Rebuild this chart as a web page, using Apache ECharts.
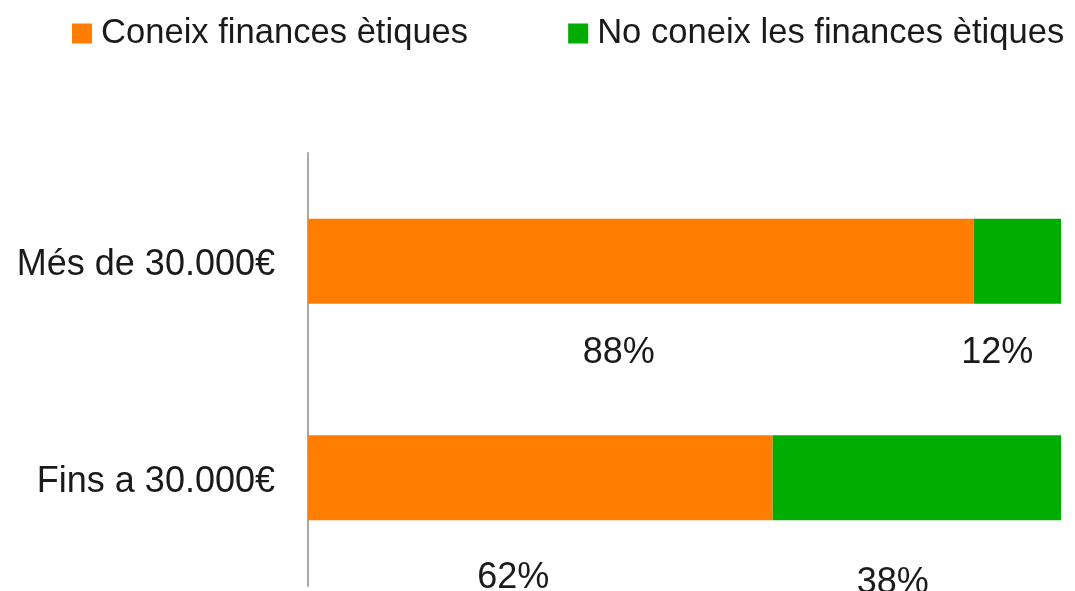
<!DOCTYPE html>
<html>
<head>
<meta charset="utf-8">
<script src="https://cdn.jsdelivr.net/npm/echarts@6/dist/echarts.min.js"></script>
<style>html,body{margin:0;padding:0;background:#fff;}#c{width:1075px;height:591px;}</style>
</head>
<body>
<div id="c"></div>
<script>
const categories = ['Més de 30.000€', 'Fins a 30.000€'];
const seriesNames = ['Coneix finances ètiques', 'No coneix les finances ètiques'];
const coneix = [88.4, 61.7];
const noConeix = [11.6, 38.3];
const coneixLabels = ['88%', '62%'];
const noConeixLabels = ['12%', '38%'];

// label placement tweaks (layout only)
const coneixLabelOffsets = [[-22, 0], [-27, 9]];
const noConeixLabelOffsets = [[-20, 0], [-24, 14]];

const FONT = '"Liberation Sans", Arial, Helvetica, sans-serif';
const chart = echarts.init(document.getElementById('c'), null, {renderer: 'canvas'});
function buildData(values, texts, offsets) {
  return values.map((v, i) => ({
    value: v,
    label: {formatter: texts[i], offset: offsets[i]}
  }));
}
const labelBase = {
  show: true,
  position: 'bottom',
  distance: 31,
  fontFamily: FONT,
  fontSize: 36,
  color: '#1a1a1a'
};
chart.setOption({
  animation: false,
  legend: {
    top: 16,
    left: 72,
    padding: 0,
    itemWidth: 20,
    itemHeight: 20,
    itemGap: 100,
    icon: 'rect',
    textStyle: {fontFamily: FONT, fontSize: 34.6, color: '#1a1a1a', padding: [0, 0, 0, 4]},
    data: seriesNames
  },
  grid: {left: 308, top: 153, width: 753, height: 433, containLabel: false},
  xAxis: {type: 'value', min: 0, max: 100, show: false},
  yAxis: {
    type: 'category',
    inverse: true,
    data: categories,
    axisLine: {show: true, lineStyle: {color: '#a8a8a8', width: 2}},
    axisTick: {show: false},
    axisLabel: {
      margin: 33,
      formatter: v => '{a|' + v + '}',
      rich: {a: {fontFamily: FONT, fontSize: 36, color: '#1a1a1a', padding: [8, 0, 0, 0]}}
    }
  },
  series: [
    {name: seriesNames[0], type: 'bar', stack: 't', barWidth: 85,
     data: buildData(coneix, coneixLabels, coneixLabelOffsets),
     itemStyle: {color: '#ff7d00'}, label: labelBase},
    {name: seriesNames[1], type: 'bar', stack: 't', barWidth: 85,
     data: buildData(noConeix, noConeixLabels, noConeixLabelOffsets),
     itemStyle: {color: '#00ad00'}, label: labelBase}
  ]
});
</script>
</body>
</html>
